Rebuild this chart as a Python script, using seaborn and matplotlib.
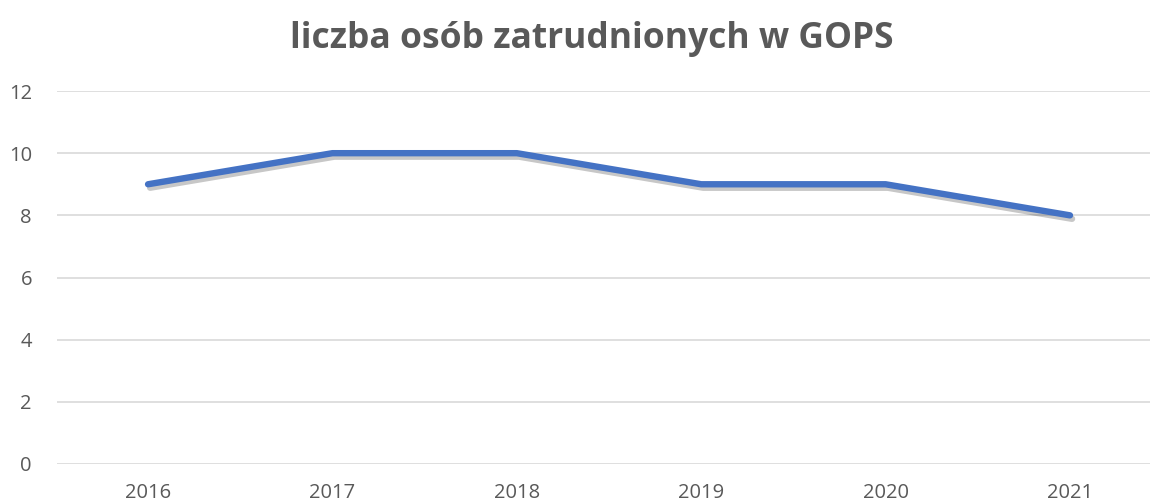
import matplotlib
matplotlib.use("Agg")
import matplotlib.pyplot as plt
import matplotlib.patheffects as pe
import seaborn as sns
import pandas as pd

# data
years = ['2016', '2017', '2018', '2019', '2020', '2021']
employees = [9, 10, 10, 9, 9, 8]
title = 'liczba osób zatrudnionych w GOPS'

df = pd.DataFrame({'rok': years, 'liczba': employees})

sns.set_style('white')
plt.rcParams['font.family'] = ['Open Sans', 'DejaVu Sans']

fig = plt.figure(figsize=(11.53, 5.04), dpi=100)
ax = fig.add_axes([0.0494, 0.0794, 0.948, 0.740])

sns.lineplot(data=df, x='rok', y='liczba', ax=ax, color='#4472C4', linewidth=4.6,
             solid_capstyle='round', solid_joinstyle='round',
             path_effects=[pe.SimpleLineShadow(offset=(1.5, -2.5), shadow_color='black', alpha=0.22),
                           pe.Normal()])

ax.set_ylim(0, 12)
ax.set_yticks(range(0, 13, 2))
ax.set_xlim(-0.494, 5.434)
ax.grid(axis='y', color='#D9D9D9', linewidth=1.2)
ax.set_axisbelow(True)
for s in ax.spines.values():
    s.set_visible(False)
ax.tick_params(axis='both', length=0, labelsize=14.5, colors='#595959')
ax.tick_params(axis='y', pad=18)
ax.tick_params(axis='x', pad=14)
ax.set_xlabel('')
ax.set_ylabel('')

fig.text(0.513, 0.922, title, ha='center', va='center', fontsize=25.5,
         fontweight='bold', color='#595959')

fig.savefig('out.png', dpi=100)
